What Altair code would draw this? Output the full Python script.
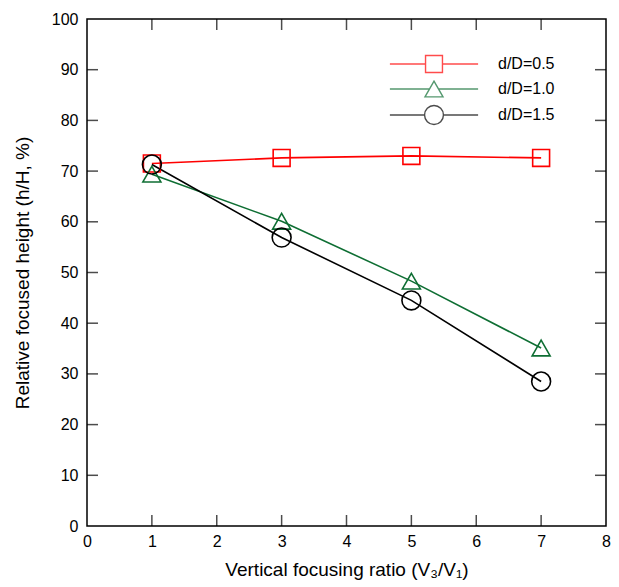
import altair as alt
import pandas as pd

ratio = [1, 3, 5, 7]
series_names = ["d/D=0.5", "d/D=1.0", "d/D=1.5"]
d05 = [71.5, 72.6, 73.0, 72.6]
d10 = [69.4, 60.1, 48.3, 35.1]
d15 = [71.3, 56.9, 44.5, 28.5]
colors = ["#ff0000", "#0e6e33", "#000000"]
x_ticks = [0, 1, 2, 3, 4, 5, 6, 7, 8]
y_ticks = [0, 10, 20, 30, 40, 50, 60, 70, 80, 90, 100]

rows = []
for name, vals in zip(series_names, [d05, d10, d15]):
    for xv, yv in zip(ratio, vals):
        rows.append({"ratio": xv, "height": yv, "series": name})
df = pd.DataFrame(rows)

sq = "M-0.94,-0.94H0.94V0.94H-0.94Z"
tri = "M0,-0.87L1,0.87H-1Z"
cir = "M-1.05,0A1.05,1.05,0,1,0,1.05,0A1.05,1.05,0,1,0,-1.05,0Z"
marker_paths = [sq, tri, cir]
legend_paths = [
    "M-4.9,0H-0.94M0.94,0H4.9" + sq,
    "M-4.9,0H-0.5M0.5,0H4.9" + tri,
    "M-4.9,0H-1.05M1.05,0H4.9" + cir,
]

xs = alt.Scale(domain=[0, 8], nice=False)
ys = alt.Scale(domain=[0, 100], nice=False)
font = "Liberation Sans"

x_enc = alt.X("ratio:Q", scale=xs,
              axis=alt.Axis(values=x_ticks, format="d", title="Vertical focusing ratio (V₃/V₁)",
                            domain=False, ticks=False, grid=False, labelPadding=7,
                            labelFontSize=16, titleFontSize=19, titleFontWeight="normal",
                            titlePadding=11, labelColor="black", titleColor="black",
                            labelFont=font, titleFont=font, labelFlush=False))
y_enc = alt.Y("height:Q", scale=ys,
              axis=alt.Axis(values=y_ticks, format="d", title="Relative focused height (h/H, %)",
                            domain=False, ticks=False, grid=False, labelPadding=9,
                            labelFontSize=16, titleFontSize=19, titleFontWeight="normal",
                            titlePadding=19, labelColor="black", titleColor="black",
                            labelFont=font, titleFont=font, labelFlush=False))

col_scale = alt.Scale(domain=series_names, range=colors)

lines = alt.Chart(df).mark_line(strokeWidth=1.6).encode(
    x=x_enc, y=y_enc,
    color=alt.Color("series:N", scale=col_scale, legend=None),
    detail="series:N",
)

points = alt.Chart(df).mark_point(filled=False, size=324, strokeWidth=1.6, opacity=1).encode(
    x="ratio:Q", y="height:Q",
    color=alt.Color("series:N", scale=col_scale, legend=None),
    shape=alt.Shape("series:N", scale=alt.Scale(domain=series_names, range=marker_paths), legend=None),
)

leg = dict(title=None, orient="none", legendX=337, legendY=35,
           symbolSize=324, symbolStrokeWidth=1.4, symbolFillColor="white",
           labelOffset=54, rowPadding=2, padding=0,
           labelFontSize=16, labelFont=font, labelColor="black")

legend_layer = alt.Chart(df).transform_filter("false").mark_point(filled=False, strokeWidth=1.4).encode(
    x="ratio:Q", y="height:Q",
    color=alt.Color("series:N", scale=alt.Scale(domain=series_names, range=colors),
                    legend=alt.Legend(**leg)),
    shape=alt.Shape("series:N", scale=alt.Scale(domain=series_names, range=legend_paths),
                    legend=alt.Legend(**leg)),
)

xt = pd.DataFrame({"t": x_ticks[1:-1]})
yt = pd.DataFrame({"t": y_ticks[1:-1]})
xtick_b = alt.Chart(xt).mark_tick(orient="vertical", size=22, thickness=1.5, color="black", clip=True).encode(
    x="t:Q", y=alt.datum(0))
xtick_t = alt.Chart(xt).mark_tick(orient="vertical", size=22, thickness=1.5, color="black", clip=True).encode(
    x="t:Q", y=alt.datum(100))
ytick_l = alt.Chart(yt).mark_tick(orient="horizontal", size=22, thickness=1.5, color="black", clip=True).encode(
    y="t:Q", x=alt.datum(0))
ytick_r = alt.Chart(yt).mark_tick(orient="horizontal", size=22, thickness=1.5, color="black", clip=True).encode(
    y="t:Q", x=alt.datum(8))

chart = alt.layer(
    lines, xtick_b, xtick_t, ytick_l, ytick_r, points, legend_layer
).resolve_scale(
    shape="independent", color="independent"
).properties(
    width=519, height=507,
    autosize=alt.AutoSizeParams(type="none"),
    padding={"left": 79, "top": 11, "right": 5, "bottom": 58},
).configure_view(
    stroke="black", strokeWidth=1.5
)

chart.save("out.html", embed_options={"renderer": "svg", "actions": False})
